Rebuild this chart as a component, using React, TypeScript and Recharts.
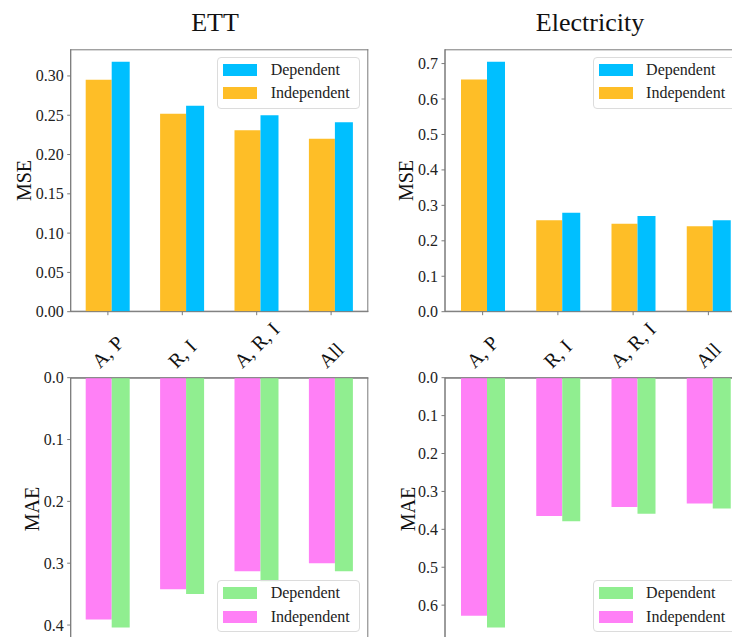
import React from 'react';
import { BarChart, Bar, XAxis, YAxis, Legend, CartesianGrid } from 'recharts';

const categories = ['A, P', 'R, I', 'A, R, I', 'All'];

const ettMseIndependent = [0.295, 0.252, 0.231, 0.22];
const ettMseDependent = [0.318, 0.262, 0.25, 0.241];
const elecMseIndependent = [0.655, 0.258, 0.248, 0.241];
const elecMseDependent = [0.705, 0.279, 0.27, 0.258];
const ettMaeIndependent = [0.391, 0.342, 0.313, 0.3];
const ettMaeDependent = [0.404, 0.35, 0.33, 0.313];
const elecMaeIndependent = [0.628, 0.365, 0.341, 0.332];
const elecMaeDependent = [0.659, 0.379, 0.359, 0.345];

const ettMseTicks = [0, 0.05, 0.1, 0.15, 0.2, 0.25, 0.3];
const elecMseTicks = [0, 0.1, 0.2, 0.3, 0.4, 0.5, 0.6, 0.7];
const ettMaeTicks = [0, 0.1, 0.2, 0.3, 0.4];
const elecMaeTicks = [0, 0.1, 0.2, 0.3, 0.4, 0.5, 0.6];

const legendLabels = ['Dependent', 'Independent'];

const FONT = '"Liberation Serif", "Times New Roman", serif';
const SPINE = '#7a7a7a';
const TEXT = '#222';
const ORANGE = '#febe27';
const CYAN = '#00bfff';
const PINK = '#ff80f6';
const GREEN = '#90ee90';

const X_AXIS_BOTTOM_H = 8.3;
const X_AXIS_TOP_H = 77.7;

let ctx: CanvasRenderingContext2D | null = null;
const measureLabel = (s: string) => {
  if (!ctx) ctx = document.createElement('canvas').getContext('2d');
  if (!ctx) return s.length * 9;
  ctx.font = '20px "Liberation Serif"';
  return ctx.measureText(s).width;
};

// rotated category labels sitting above the lower panels
const CatTick = (props: any) => {
  const { x, y, payload } = props;
  const w = measureLabel(payload.value);
  const cx = x + 4.7;
  const cy = y - 8.5 - (0.707 * w) / 2;
  return (
    <text
      x={cx}
      y={cy}
      transform={`rotate(-45 ${cx} ${cy})`}
      textAnchor="middle"
      fontSize={20}
      fontFamily={FONT}
      fill="#111"
    >
      {payload.value}
    </text>
  );
};

const YTick = (props: any) => {
  const { x, y, payload, decimals } = props;
  return (
    <text
      x={x}
      y={y}
      textAnchor="end"
      dominantBaseline="central"
      fontSize={16}
      fontFamily={FONT}
      fill={TEXT}
    >
      {Number(payload.value).toFixed(decimals)}
    </text>
  );
};

const LegendBox = ({ colors }: { colors: string[] }) => (
  <div
    style={{
      position: 'relative',
      width: 143,
      height: 52,
      boxSizing: 'border-box',
      border: '1px solid #dcdcdc',
      borderRadius: 4,
      background: 'rgba(255,255,255,0.85)',
      fontFamily: FONT,
      fontSize: 16,
      color: TEXT,
    }}
  >
    {legendLabels.map((label, i) => (
      <React.Fragment key={label}>
        <div
          style={{
            position: 'absolute',
            left: 5,
            top: 6.3 + i * 23.3,
            width: 34,
            height: 12,
            background: colors[i],
          }}
        />
        <div
          style={{
            position: 'absolute',
            left: 52.4,
            top: 12.3 + i * 23.3,
            transform: 'translateY(-50%)',
            lineHeight: '18px',
            whiteSpace: 'nowrap',
            fontFamily: FONT,
          }}
        >
          {label}
        </div>
      </React.Fragment>
    ))}
  </div>
);

interface PanelProps {
  left: number;
  top: number;
  width: number;
  height: number;
  upper: boolean;
  yWidth: number;
  marginTop: number;
  marginRight: number;
  ind: number[];
  dep: number[];
  ticks: number[];
  decimals: number;
  indColor: string;
  depColor: string;
  legendLeft: number;
  legendTop: number;
}

const Panel = (p: PanelProps) => {
  const data = categories.map((cat, i) => ({ cat, ind: p.ind[i], dep: p.dep[i] }));
  const maxVal = Math.max(...p.ind, ...p.dep) * 1.05;
  // frame (matplotlib box) drawn by the grid at the plot edges
  const plotTop = p.upper ? p.marginTop : p.marginTop + X_AXIS_TOP_H;
  const plotBottom = p.upper ? p.height - X_AXIS_BOTTOM_H : p.height;
  const plotLeft = p.yWidth;
  const plotRight = p.width - p.marginRight;
  return (
    <div style={{ position: 'absolute', left: p.left, top: p.top }}>
      <BarChart
        width={p.width}
        height={p.height}
        data={data}
        barGap={0}
        margin={{ top: p.marginTop, right: p.marginRight, left: 0, bottom: 0 }}
      >
        <CartesianGrid
          stroke={SPINE}
          strokeDasharray=""
          horizontalPoints={[plotTop + 0.5, plotBottom - 0.5]}
          verticalPoints={[plotLeft, plotRight - 0.5]}
        />
        {p.upper ? (
          <XAxis
            dataKey="cat"
            orientation="bottom"
            height={X_AXIS_BOTTOM_H}
            interval={0}
            tickSize={3.5}
            tickLine={{ stroke: SPINE }}
            axisLine={{ stroke: SPINE }}
            tick={() => <g />}
          />
        ) : (
          <XAxis
            dataKey="cat"
            orientation="top"
            height={X_AXIS_TOP_H}
            interval={0}
            tickSize={0}
            tickMargin={0}
            tickLine={false}
            axisLine={{ stroke: SPINE }}
            tick={(tp: any) => <CatTick {...tp} />}
          />
        )}
        <YAxis
          type="number"
          width={p.yWidth}
          domain={[0, maxVal]}
          ticks={p.ticks}
          interval={0}
          reversed={!p.upper}
          allowDataOverflow
          tickSize={3.5}
          tickMargin={3.5}
          tick={(tp: any) => <YTick {...tp} decimals={p.decimals} />}
          tickLine={{ stroke: SPINE }}
          axisLine={{ stroke: SPINE }}
        />
        <Bar dataKey="ind" name="Independent" fill={p.indColor} barSize={26} isAnimationActive={false} />
        <Bar dataKey="dep" name="Dependent" fill={p.depColor} barSize={18} isAnimationActive={false} />
        <Legend
          layout="vertical"
          align="center"
          verticalAlign="middle"
          wrapperStyle={{ left: p.legendLeft, top: p.legendTop, width: 143, height: 52 }}
          content={() => <LegendBox colors={[p.depColor, p.indColor]} />}
        />
      </BarChart>
    </div>
  );
};

const rotTitle = (label: string, x: number, y: number) => (
  <text
    x={x}
    y={y}
    transform={`rotate(-90 ${x} ${y})`}
    textAnchor="middle"
    dominantBaseline="central"
    fontSize={20}
    fontFamily={FONT}
    fill="#111"
  >
    {label}
  </text>
);

export default function App() {
  return (
    <div
      style={{
        position: 'absolute',
        left: 0,
        top: 0,
        width: 732,
        height: 637,
        overflow: 'hidden',
        background: '#fff',
        fontFamily: FONT,
      }}
    >
      <svg width={732} height={637} style={{ position: 'absolute', left: 0, top: 0 }}>
        <text x={215} y={30.7} textAnchor="middle" fontSize={26} fontFamily={FONT} fill="#111">
          ETT
        </text>
        <text x={590} y={30.7} textAnchor="middle" fontSize={26} fontFamily={FONT} fill="#111">
          Electricity
        </text>
        {rotTitle('MSE', 24, 180.5)}
        {rotTitle('MSE', 405.7, 180.5)}
        {rotTitle('MAE', 32, 509)}
        {rotTitle('MAE', 407.5, 509)}
      </svg>
      <Panel
        left={0}
        top={0}
        width={380}
        height={320}
        upper
        yWidth={70.7}
        marginTop={49.3}
        marginRight={11.7}
        ind={ettMseIndependent}
        dep={ettMseDependent}
        ticks={ettMseTicks}
        decimals={2}
        indColor={ORANGE}
        depColor={CYAN}
        legendLeft={217.3}
        legendTop={56.7}
      />
      <Panel
        left={370}
        top={0}
        width={390}
        height={320}
        upper
        yWidth={75}
        marginTop={49.3}
        marginRight={14}
        ind={elecMseIndependent}
        dep={elecMseDependent}
        ticks={elecMseTicks}
        decimals={1}
        indColor={ORANGE}
        depColor={CYAN}
        legendLeft={222.7}
        legendTop={56.7}
      />
      <Panel
        left={0}
        top={300}
        width={380}
        height={340}
        upper={false}
        yWidth={70.7}
        marginTop={0}
        marginRight={11.7}
        ind={ettMaeIndependent}
        dep={ettMaeDependent}
        ticks={ettMaeTicks}
        decimals={1}
        indColor={PINK}
        depColor={GREEN}
        legendLeft={217.3}
        legendTop={280}
      />
      <Panel
        left={370}
        top={300}
        width={390}
        height={340}
        upper={false}
        yWidth={75}
        marginTop={0}
        marginRight={14}
        ind={elecMaeIndependent}
        dep={elecMaeDependent}
        ticks={elecMaeTicks}
        decimals={1}
        indColor={PINK}
        depColor={GREEN}
        legendLeft={222.7}
        legendTop={280}
      />
    </div>
  );
}
